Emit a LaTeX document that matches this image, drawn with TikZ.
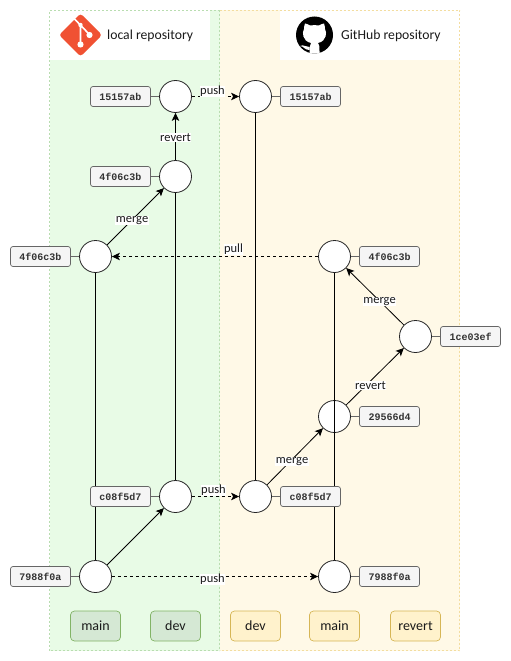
\documentclass[tikz,border=0pt]{standalone}
\usepackage{fontspec}
\setmainfont{Carlito}
\setmonofont{Liberation Mono}
\usetikzlibrary{arrows.meta}
\definecolor{gpanel}{HTML}{E8FBE6}
\definecolor{gdash}{HTML}{B9DDB0}
\definecolor{ypanel}{HTML}{FFF9E7}
\definecolor{ydash}{HTML}{F3DDA0}
\definecolor{gfill}{HTML}{D5E8D4}
\definecolor{gline}{HTML}{82B366}
\definecolor{yfill}{HTML}{FFF2CC}
\definecolor{yline}{HTML}{D6B656}
\definecolor{hashfill}{HTML}{F5F5F5}
\definecolor{hashline}{HTML}{666666}
\definecolor{txt}{HTML}{1A1A1A}
\definecolor{gitred}{HTML}{F05133}
\tikzset{
 commit/.style={circle,draw=black!85,fill=white,line width=.8pt,minimum size=32pt,inner sep=0pt},
 hash/.style={rectangle,rounded corners=2.5pt,draw=hashline,fill=hashfill,line width=.7pt,minimum width=60pt,minimum height=20pt,inner sep=0pt,font=\ttfamily\bfseries\fontsize{10}{12}\selectfont,text=black!80},
 glabel/.style={rectangle,rounded corners=4pt,draw=gline,fill=gfill,line width=.7pt,minimum width=50pt,minimum height=30pt,inner sep=0pt,font=\fontsize{14}{16}\selectfont,text=txt},
 ylabel/.style={rectangle,rounded corners=4pt,draw=yline,fill=yfill,line width=.7pt,minimum width=50pt,minimum height=30pt,inner sep=0pt,font=\fontsize{14}{16}\selectfont,text=txt},
 tag/.style={fill=white,inner sep=.5pt,font=\fontsize{12.5}{15}\selectfont,text=txt},
 head/.style={inner sep=0pt,anchor=west,font=\fontsize{13.7}{16}\selectfont,text=txt},
 solidarrow/.style={line width=.8pt,-{Stealth[length=8pt,width=7.5pt,inset=2pt]}},
 dasharrow/.style={solidarrow,dash pattern=on 3pt off 3pt},
 plain/.style={line width=.8pt},
 tie/.style={draw=hashline,line width=.8pt},
}
\begin{document}
\begin{tikzpicture}[x=1pt,y=-1pt]
\useasboundingbox (0,0) rectangle (511,661);
% panels
\fill[gpanel] (49.5,10.5) rectangle (219.5,650.5);
\fill[ypanel] (219.5,10.5) rectangle (459.5,650.5);
\fill[white] (49.5,10.5) rectangle (209.5,60);
\fill[white] (279.5,10.5) rectangle (459.5,60);
\draw[gdash,line width=.7pt,dash pattern=on 2pt off 2pt] (219.5,10.5) -- (49.5,10.5) -- (49.5,650.5) -- (219.5,650.5);
\draw[ydash,line width=.7pt,dash pattern=on 2pt off 2pt] (219.5,10.5) -- (459.5,10.5) -- (459.5,650.5) -- (219.5,650.5);
\draw[gdash,line width=.7pt,dash pattern=on 2pt off 2pt] (219.5,10.5) -- (219.5,650.5);
% git logo
\fill[gitred,rounded corners=3pt] (80.5,13.5) -- (102,35) -- (80.5,56.5) -- (59,35) -- cycle;
\draw[white,line width=1.6pt] (74.5,19) -- (89.5,34.5) (80.5,25) -- (80.5,44);
\fill[white] (80.5,44.5) circle (3.1) (89.5,35) circle (3.1) (80.5,25) circle (2.2);
% github logo
\fill[black] (314.5,35) circle (18.5);
\fill[white] (305,23.5) .. controls (307,23.5) and (309,25) .. (310,25.5) .. controls (313,25) and (316,25) .. (319,25.5) .. controls (320,25) and (322,23.5) .. (324,23.5) .. controls (325,26) and (325,28) .. (325,29) .. controls (327,32) and (327,41) .. (318,43) .. controls (319.5,44.5) and (319.5,46) .. (319.5,53.5) -- (309.5,53.5) .. controls (309.5,48) and (309.5,46) .. (311,43) .. controls (302,41) and (302,32) .. (304,29) .. controls (304,28) and (304,26) .. (305,23.5) -- cycle;
\fill[white] (300,46) .. controls (304,46) and (304,50) .. (309.5,50) -- (309.5,47) .. controls (306,47.5) and (304,44) .. (300,46) -- cycle;
\node[head] (hl) at (107,36) {local repository};
\node[head] (hr) at (341,36) {GitHub repository};
% commits
\node[commit] (m4) at (95.5,256.5) {};
\node[commit] (m1) at (95.5,576.5) {};
\node[commit] (d4) at (175.5,96.5) {};
\node[commit] (d3) at (175.5,176.5) {};
\node[commit] (d2) at (175.5,496.5) {};
\node[commit] (r4) at (255.5,96.5) {};
\node[commit] (r2) at (255.5,496.5) {};
\node[commit] (n4) at (334.5,256.5) {};
\node[commit] (n3) at (334.5,416.5) {};
\node[commit] (n1) at (334.5,576.5) {};
\node[commit] (v1) at (415.5,336.5) {};
% lines
\draw[plain] (m4) -- (m1);
\draw[plain] (d3) -- (d2);
\draw[plain] (r4) -- (r2);
\draw[plain] (n4) -- (n1);
% hashes
\node[hash] (hd4) at (120.5,96.5) {15157ab};
\node[hash] (hd3) at (120.5,176.5) {4f06c3b};
\node[hash] (hm4) at (40.5,256.5) {4f06c3b};
\node[hash] (hd2) at (120.5,496.5) {c08f5d7};
\node[hash] (hm1) at (40.5,576.5) {7988f0a};
\node[hash] (hr4) at (310.5,96.5) {15157ab};
\node[hash] (hn4) at (389.5,256.5) {4f06c3b};
\node[hash] (hv1) at (470.5,336.5) {1ce03ef};
\node[hash] (hn3) at (389.5,416.5) {29566d4};
\node[hash] (hr2) at (310.5,496.5) {c08f5d7};
\node[hash] (hn1) at (389.5,576.5) {7988f0a};
\draw[tie] (hd4) -- (d4);
\draw[tie] (hd3) -- (d3);
\draw[tie] (hm4) -- (m4);
\draw[tie] (hd2) -- (d2);
\draw[tie] (hm1) -- (m1);
\draw[tie] (r4) -- (hr4);
\draw[tie] (n4) -- (hn4);
\draw[tie] (v1) -- (hv1);
\draw[tie] (n3) -- (hn3);
\draw[tie] (r2) -- (hr2);
\draw[tie] (n1) -- (hn1);
% arrows
\draw[solidarrow] (d3) -- (d4);
\draw[solidarrow] (m4) -- (d3);
\draw[solidarrow] (m1) -- (d2);
\draw[solidarrow] (r2) -- (n3);
\draw[solidarrow] (n3) -- (v1);
\draw[solidarrow] (v1) -- (n4);
\draw[dasharrow] (d4) -- (r4);
\draw[dasharrow] (d2) -- (r2);
\draw[dasharrow] (m1) -- (n1);
\draw[dasharrow] (n4) -- (m4);
% edge tags
\node[tag] (t1) at (212.5,91.5) {push};
\node[tag] (t2) at (175.5,137.5) {revert};
\node[tag] (t3) at (132,220.5) {merge};
\node[tag] (t4) at (233.5,249.5) {pull};
\node[tag] (t5) at (379.5,301.5) {merge};
\node[tag] (t6) at (370.5,385.5) {revert};
\node[tag] (t7) at (292,461.5) {merge};
\node[tag] (t8) at (213.5,490.5) {push};
\node[tag] (t9) at (212.5,579.5) {push};
% branch labels
\node[glabel] (b1) at (95.5,626) {main};
\node[glabel] (b2) at (175.5,626) {dev};
\node[ylabel] (b3) at (255.5,626) {dev};
\node[ylabel] (b4) at (334.5,626) {main};
\node[ylabel] (b5) at (415.5,626) {revert};
\end{tikzpicture}
\end{document}
